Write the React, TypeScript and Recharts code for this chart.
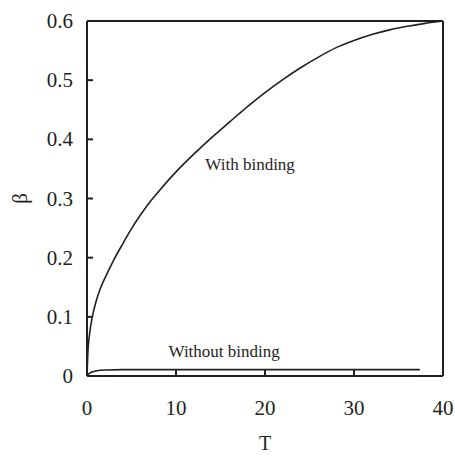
import { LineChart, Line, XAxis, YAxis, ReferenceDot } from "recharts";

// beta vs T, with binding
const withT = [0, 0.1, 0.3, 0.6, 1, 1.5, 2, 3, 4, 5, 6, 7, 8, 10, 12, 14, 16, 18, 20, 22, 24, 26, 28, 30, 32, 34, 36, 38, 40];
const withBeta = [
  0, 0.04, 0.072, 0.1, 0.125, 0.148, 0.165, 0.196, 0.223, 0.249, 0.272, 0.293, 0.311, 0.345, 0.375, 0.403,
  0.429, 0.455, 0.479, 0.501, 0.521, 0.539, 0.555, 0.567, 0.577, 0.585, 0.591, 0.596, 0.6,
];

// beta vs T, without binding
const withoutT = [0, 0.3, 1, 2, 4, 37.4];
const withoutBeta = [0, 0.005, 0.0085, 0.0102, 0.0107, 0.0107];

const xTicks = [0, 10, 20, 30, 40];
const yTicks = [0, 0.1, 0.2, 0.3, 0.4, 0.5, 0.6];

const withData = withT.map((t, i) => ({ t, beta: withBeta[i] }));
const withoutData = withoutT.map((t, i) => ({ t, beta: withoutBeta[i] }));

const FONT = "Liberation Serif, Times New Roman, serif";
const INK = "#231f20";

function curveLabel(text: string) {
  return (props: any) => {
    const vb = props.viewBox || {};
    return (
      <text x={vb.x} y={vb.y} fontFamily={FONT} fontSize={17} fill={INK}>
        {text}
      </text>
    );
  };
}

const XTick = (props: any) => (
  <text x={props.x} y={props.y} dy="0.71em" textAnchor="middle" fontFamily={FONT} fontSize={21} fill={INK}>
    {props.payload.value}
  </text>
);

const YTick = (props: any) => (
  <text x={props.x} y={props.y} dy="0.34em" textAnchor="end" fontFamily={FONT} fontSize={21} fill={INK}>
    {props.payload.value === 0 ? "0" : props.payload.value.toFixed(1)}
  </text>
);

export default function App() {
  return (
    <div style={{ position: "absolute", left: 0, top: 0, width: 455, height: 461, background: "#fff", fontFamily: FONT }}>
      <LineChart width={455} height={461} margin={{ top: 20, right: 11, bottom: 25, left: 27 }}>
        <XAxis
          xAxisId="b"
          dataKey="t"
          type="number"
          domain={[0, 40]}
          ticks={xTicks}
          height={60}
          stroke={INK}
          strokeWidth={2}
          tickSize={-6}
          tickMargin={30}
          tick={<XTick />}
          allowDuplicatedCategory={false}
          label={{
            content: (p: any) => {
              const vb = p.viewBox;
              return (
                <text x={vb.x + vb.width / 2} y={vb.y + 74} textAnchor="middle" fontFamily={FONT} fontSize={20} fill={INK}>
                  T
                </text>
              );
            },
          }}
        />
        <XAxis
          xAxisId="t"
          orientation="top"
          dataKey="t"
          type="number"
          domain={[0, 40]}
          ticks={xTicks}
          height={1}
          stroke={INK}
          strokeWidth={2}
          tickSize={-6}
          tickFormatter={() => ""}
        />
        <YAxis
          yAxisId="l"
          type="number"
          domain={[0, 0.6]}
          ticks={yTicks}
          width={60}
          stroke={INK}
          strokeWidth={2}
          tickSize={-6}
          tickMargin={20}
          tick={<YTick />}
          label={{
            content: (p: any) => {
              const vb = p.viewBox;
              const cx = vb.x - 7;
              const cy = vb.y + vb.height / 2;
              return (
                <text
                  x={cx}
                  y={cy}
                  textAnchor="middle"
                  dominantBaseline="central"
                  transform={`rotate(-90, ${cx}, ${cy})`}
                  fontFamily={FONT}
                  fontSize={21}
                  fill={INK}
                >
                  β
                </text>
              );
            },
          }}
        />
        <YAxis
          yAxisId="r"
          orientation="right"
          type="number"
          domain={[0, 0.6]}
          ticks={yTicks}
          width={1}
          stroke={INK}
          strokeWidth={2}
          tickSize={-6}
          tickFormatter={() => ""}
        />
        <Line
          xAxisId="b"
          yAxisId="l"
          data={withData}
          dataKey="beta"
          type="monotone"
          stroke={INK}
          strokeWidth={1.6}
          dot={false}
          isAnimationActive={false}
        />
        <Line
          xAxisId="b"
          yAxisId="l"
          data={withoutData}
          dataKey="beta"
          type="monotone"
          stroke={INK}
          strokeWidth={1.6}
          dot={false}
          isAnimationActive={false}
        />
        <ReferenceDot xAxisId="b" yAxisId="l" x={13.3} y={0.349} r={0} stroke="none" fill="none" label={{ content: curveLabel("With binding") }} />
        <ReferenceDot xAxisId="b" yAxisId="l" x={9.16} y={0.0316} r={0} stroke="none" fill="none" label={{ content: curveLabel("Without binding") }} />
      </LineChart>
    </div>
  );
}
